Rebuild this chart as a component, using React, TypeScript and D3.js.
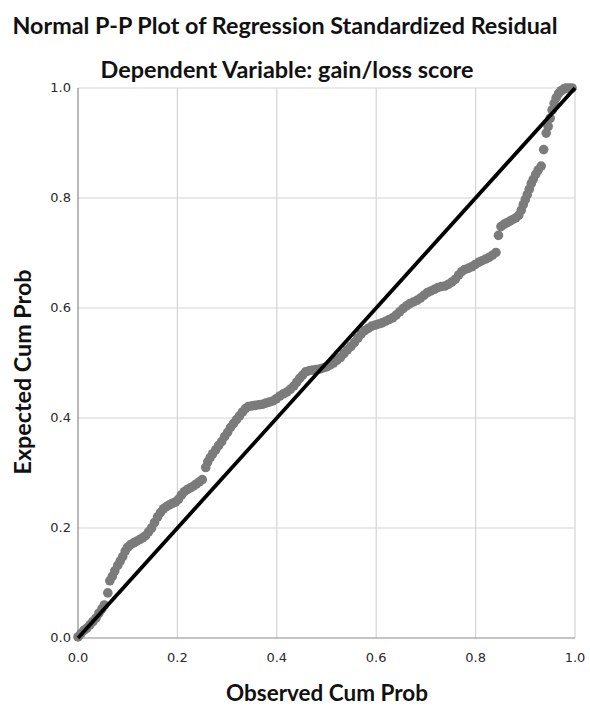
import React from "react";
import * as d3 from "d3";

// observed cumulative probability (x) for each residual point
const observedCumProb = [
  0.0, 0.006, 0.012, 0.018, 0.024, 0.03, 0.036, 0.042, 0.048, 0.053,
  0.06,
  0.064, 0.069, 0.074, 0.08, 0.085, 0.09, 0.095, 0.1, 0.106, 0.112, 0.118, 0.124,
  0.13, 0.136, 0.142, 0.148, 0.154, 0.16, 0.166, 0.172, 0.178, 0.184, 0.19, 0.196,
  0.202, 0.208, 0.214, 0.22, 0.226, 0.232, 0.238, 0.244, 0.25,
  0.257, 0.261, 0.266, 0.271, 0.277, 0.283, 0.289, 0.295, 0.301, 0.307, 0.313,
  0.319, 0.325, 0.331, 0.337, 0.343, 0.35, 0.357, 0.364, 0.371, 0.378, 0.385,
  0.392, 0.399, 0.406, 0.413, 0.42, 0.427, 0.434, 0.44, 0.446, 0.452, 0.458,
  0.465, 0.472, 0.479, 0.486, 0.493, 0.5, 0.507, 0.514, 0.521, 0.528, 0.535,
  0.542, 0.549, 0.556, 0.563, 0.57, 0.577, 0.584, 0.591, 0.598, 0.605, 0.612,
  0.619, 0.626, 0.633, 0.64, 0.647, 0.654, 0.661, 0.668, 0.675, 0.682, 0.689,
  0.696, 0.703, 0.71, 0.717, 0.724, 0.731, 0.738, 0.745, 0.752, 0.759, 0.766,
  0.772, 0.778, 0.785, 0.792, 0.799, 0.806, 0.813, 0.82, 0.827, 0.834, 0.841,
  0.846, 0.851, 0.857, 0.863, 0.869, 0.875, 0.881, 0.887, 0.892, 0.896, 0.9,
  0.904, 0.908, 0.912, 0.916, 0.921, 0.926, 0.932,
  0.937,
  0.942, 0.946, 0.95, 0.954, 0.958, 0.962, 0.967, 0.972, 0.977, 0.982, 0.988, 0.994,
];

// expected cumulative probability (y), same order
const expectedCumProb = [
  0.002, 0.008, 0.014, 0.018, 0.024, 0.03, 0.036, 0.045, 0.053, 0.06,
  0.082,
  0.104, 0.112, 0.122, 0.132, 0.14, 0.148, 0.158, 0.165, 0.17, 0.173, 0.176, 0.179,
  0.182, 0.186, 0.193, 0.2, 0.21, 0.22, 0.228, 0.235, 0.239, 0.242, 0.245, 0.247,
  0.252, 0.26, 0.266, 0.27, 0.273, 0.276, 0.28, 0.284, 0.288,
  0.31, 0.32, 0.328, 0.335, 0.342, 0.35, 0.357, 0.366, 0.374, 0.383, 0.39,
  0.397, 0.404, 0.411, 0.417, 0.421, 0.422, 0.423, 0.424, 0.425, 0.427, 0.429,
  0.431, 0.435, 0.44, 0.444, 0.447, 0.452, 0.458, 0.465, 0.472, 0.478, 0.484,
  0.486, 0.487, 0.488, 0.489, 0.491, 0.493, 0.496, 0.5, 0.505, 0.51, 0.517,
  0.524, 0.53, 0.537, 0.545, 0.553, 0.559, 0.563, 0.567, 0.569, 0.571, 0.573,
  0.576, 0.579, 0.582, 0.587, 0.593, 0.599, 0.604, 0.608, 0.611, 0.614, 0.618,
  0.623, 0.628, 0.631, 0.634, 0.637, 0.639, 0.64, 0.643, 0.647, 0.652, 0.66,
  0.666, 0.67, 0.672, 0.675, 0.679, 0.683, 0.686, 0.689, 0.692, 0.696, 0.701,
  0.732, 0.748, 0.752, 0.755, 0.758, 0.761, 0.764, 0.769, 0.778, 0.788, 0.797,
  0.806, 0.816, 0.826, 0.834, 0.843, 0.851, 0.858,
  0.888,
  0.918, 0.93, 0.945, 0.96, 0.972, 0.982, 0.99, 0.995, 0.998, 1.0, 1.0, 1.0,
];

const tickValues = [0, 0.2, 0.4, 0.6, 0.8, 1.0];

const chartTitle = "Normal P-P Plot of Regression Standardized Residual";
const chartSubtitle = "Dependent Variable: gain/loss score";
const xLabel = "Observed Cum Prob";
const yLabel = "Expected Cum Prob";

export default function App() {
  const width = 590;
  const height = 706;
  const left = 78, right = 575, top = 88, bottom = 638;

  const x = d3.scaleLinear().domain([0, 1]).range([left, right]);
  const y = d3.scaleLinear().domain([0, 1]).range([bottom, top]);

  const points = observedCumProb.map((o, i) => ({ o, e: expectedCumProb[i] }));
  const titleFont = "Lato, 'Open Sans', sans-serif";
  const tickFont = "'DejaVu Sans', sans-serif";

  return (
    <svg
      width={width}
      height={height}
      style={{ position: "absolute", left: 0, top: 0, background: "#fff" }}
    >
      <text x={285} y={34} textAnchor="middle" fontFamily={titleFont} fontWeight="bold"
        fontSize={23} fill="#111" textLength={545} lengthAdjust="spacingAndGlyphs">
        {chartTitle}
      </text>
      <text x={287} y={78} textAnchor="middle" fontFamily={titleFont} fontWeight="bold"
        fontSize={23} fill="#111" textLength={373} lengthAdjust="spacingAndGlyphs">
        {chartSubtitle}
      </text>

      {/* gridlines */}
      {tickValues.slice(1).map((t) => (
        <line key={"gx" + t} x1={x(t)} x2={x(t)} y1={top} y2={bottom} stroke="#d4d4d4" strokeWidth={1.2} />
      ))}
      {tickValues.slice(1).map((t) => (
        <line key={"gy" + t} x1={left} x2={right} y1={y(t)} y2={y(t)} stroke="#d4d4d4" strokeWidth={1.2} />
      ))}

      {/* axes */}
      <line x1={left} x2={left} y1={top} y2={bottom} stroke="#8a8a8a" strokeWidth={1.2} />
      <line x1={left} x2={right} y1={bottom} y2={bottom} stroke="#8a8a8a" strokeWidth={1.2} />

      {tickValues.map((t) => (
        <text key={"tx" + t} x={x(t)} y={662} textAnchor="middle" fontFamily={tickFont}
          fontSize={13} fill="#2a2a2a">
          {d3.format(".1f")(t)}
        </text>
      ))}
      {tickValues.map((t) => (
        <text key={"ty" + t} x={71} y={y(t) + 4} textAnchor="end" fontFamily={tickFont}
          fontSize={13} fill="#2a2a2a">
          {d3.format(".1f")(t)}
        </text>
      ))}

      {/* residual points */}
      <g fill="#7b7b7b">
        {points.map((p, i) => (
          <circle key={i} cx={x(p.o)} cy={y(p.e)} r={4.8} />
        ))}
      </g>

      {/* reference diagonal */}
      <line x1={x(0)} y1={y(0)} x2={x(1)} y2={y(1)} stroke="#000" strokeWidth={3.8} />

      <text x={327} y={701} textAnchor="middle" fontFamily={titleFont} fontWeight="bold"
        fontSize={23} fill="#111" textLength={202} lengthAdjust="spacingAndGlyphs">
        {xLabel}
      </text>
      <text transform={`translate(31, ${372}) rotate(-90)`} textAnchor="middle"
        fontFamily={titleFont} fontWeight="bold" fontSize={23} fill="#111"
        textLength={205} lengthAdjust="spacingAndGlyphs">
        {yLabel}
      </text>
    </svg>
  );
}
